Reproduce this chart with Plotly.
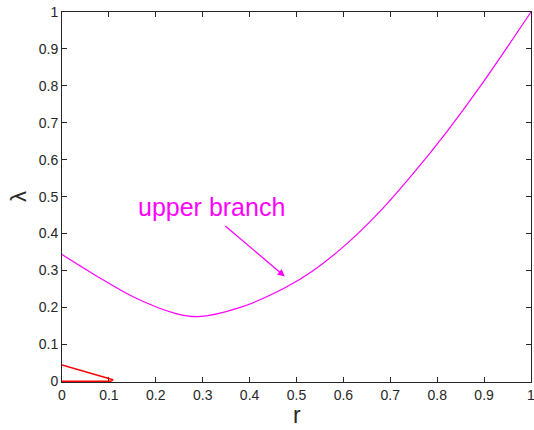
import plotly.graph_objects as go

# Upper branch of lambda(r)
r_upper = [0.0, 0.070, 0.156, 0.241, 0.290, 0.380, 0.4755, 0.536, 0.607, 0.678, 0.749, 0.820, 0.891, 1.0]
lam_upper = [0.343, 0.288, 0.226, 0.184, 0.175, 0.200, 0.253, 0.300, 0.372, 0.460, 0.563, 0.675, 0.797, 1.0]

# Small lower branch near the origin
r_lower = [0.0, 0.100, 0.109, 0.104, 0.0]
lam_lower = [0.044, 0.009, 0.004, 0.0, 0.0]

x_ticks = [0, 0.1, 0.2, 0.3, 0.4, 0.5, 0.6, 0.7, 0.8, 0.9, 1]
y_ticks = [0, 0.1, 0.2, 0.3, 0.4, 0.5, 0.6, 0.7, 0.8, 0.9, 1]
x_tick_text = ["0", "0.1", "0.2", "0.3", "0.4", "0.5", "0.6", "0.7", "0.8", "0.9", "1"]
y_tick_text = ["0", "0.1", "0.2", "0.3", "0.4", "0.5", "0.6", "0.7", "0.8", "0.9", "1"]

FONT = "Liberation Sans, Arial, sans-serif"
AX = "#262626"

fig = go.Figure()
fig.add_trace(go.Scatter(x=r_upper, y=lam_upper, mode="lines",
                         line=dict(color="#ff00ff", width=1.2, shape="spline", smoothing=1.0)))
fig.add_trace(go.Scatter(x=r_lower, y=lam_lower, mode="lines",
                         line=dict(color="#ff0000", width=1.4)))

axis_common = dict(
    showgrid=False, zeroline=False, showline=True, linecolor=AX, linewidth=1,
    mirror="ticks", ticks="inside", ticklen=5, tickcolor=AX, layer="below traces",
    ticklabeloverflow="allow", automargin=False,
    tickfont=dict(family=FONT, size=14, color=AX),
)
fig.update_xaxes(range=[0, 1], tickvals=x_ticks, ticktext=x_tick_text, **axis_common)
# tiny bottom padding keeps the red segment on lambda=0 visible above the axis line
fig.update_yaxes(range=[-0.002, 1], tickvals=y_ticks, ticktext=y_tick_text, **axis_common)

fig.update_layout(
    width=534, height=430,
    margin=dict(l=62, r=3, t=12, b=48),
    plot_bgcolor="white", paper_bgcolor="white",
    showlegend=False,
    annotations=[
        # arrow
        dict(x=0.475, y=0.284, ax=0.345, ay=0.424, xref="x", yref="y",
             axref="x", ayref="y", text="", showarrow=True,
             arrowhead=2, arrowsize=1.1, arrowwidth=1.3, arrowcolor="#ff00ff"),
        # label
        dict(x=0.318, y=0.472, xref="x", yref="y", text="upper branch",
             showarrow=False, font=dict(family=FONT, size=25, color="#ff00ff")),
        # axis titles
        dict(x=0.5, y=0, xref="paper", yref="paper", yshift=-33, yanchor="middle",
             text="r", showarrow=False, font=dict(family=FONT, size=23, color=AX)),
        dict(x=0, y=0.5, xref="paper", yref="paper", xshift=-44, xanchor="center",
             yshift=0, text="λ", textangle=-90, showarrow=False,
             font=dict(family=FONT, size=22, color=AX)),
    ],
)

fig.write_html("out.html")
